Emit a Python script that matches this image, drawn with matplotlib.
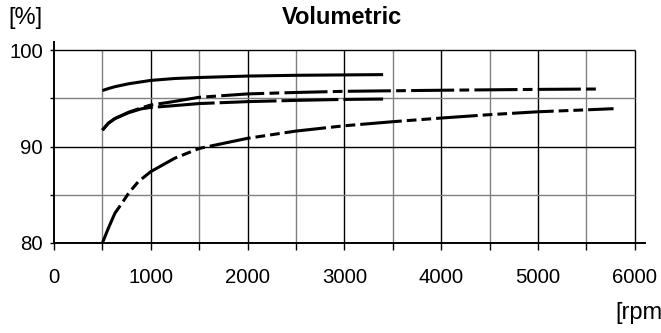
import matplotlib
matplotlib.use("Agg")
import matplotlib.pyplot as plt
import numpy as np

plt.rcParams['font.family'] = ['Liberation Sans', 'DejaVu Sans']
plt.rcParams['lines.scale_dashes'] = False

# --- data -------------------------------------------------------------
rpm1 = [500, 560, 630, 770, 1000, 1250, 1500, 2000, 2500, 3000, 3400]
vol1 = [95.8, 96.0, 96.2, 96.5, 96.85, 97.05, 97.15, 97.3, 97.38, 97.42, 97.45]

rpm2 = [500, 560, 630, 770, 900, 1000, 1200, 1500, 2000, 2500, 3000, 3400]
vol2 = [91.7, 92.4, 92.9, 93.5, 93.9, 94.05, 94.2, 94.45, 94.65, 94.78, 94.88, 94.92]

rpm3 = [500, 560, 630, 770, 900, 1000, 1200, 1500, 2000, 2500, 3000, 4000, 5000, 5650]
vol3 = [91.7, 92.4, 92.9, 93.55, 94.0, 94.3, 94.6, 95.1, 95.45, 95.6, 95.72, 95.83, 95.92, 95.96]

rpm4 = [500, 560, 630, 700, 770, 870, 1000, 1250, 1500, 2000, 2500, 3000, 3500,
        4000, 4500, 5000, 5500, 5780]
vol4 = [80.0, 81.5, 83.1, 84.1, 85.15, 86.35, 87.4, 88.8, 89.8, 90.85, 91.6, 92.15,
        92.57, 92.95, 93.3, 93.6, 93.8, 93.92]

x_major = [0, 1000, 2000, 3000, 4000, 5000, 6000]
x_minor = [500, 1500, 2500, 3500, 4500, 5500]
y_major = [80, 90, 100]
y_minor = [85, 95]

title = "Volumetric"
y_unit = "[%]"
x_unit = "[rpm]"

# --- figure -----------------------------------------------------------
fig = plt.figure(figsize=(6.61, 3.33), dpi=100)
ax = fig.add_axes([54/661, 1-243/333, (644.5-54)/661, (243-42)/333])
ax.set_xlim(0, 6100)
ax.set_ylim(80, 100.83)

# grid box (limited to 0..6000, 80..100)
for xv in x_major[1:]:
    ax.vlines(xv, 80, 100, color='black', lw=1.0, zorder=1)
for xv in x_minor:
    ax.vlines(xv, 80, 100, color='#808080', lw=1.0, zorder=1)
for yv in y_major[1:]:
    ax.hlines(yv, 0, 6000, color='black', lw=1.0, zorder=1)
for yv in y_minor:
    ax.hlines(yv, 0, 6000, color='#808080', lw=1.0, zorder=1)

lw = 2.2
ax.plot(rpm1, vol1, color='black', lw=lw, solid_capstyle='butt', zorder=3)
ax.plot(rpm2, vol2, color='black', lw=lw, dashes=(41, 3.6), dash_capstyle='butt', zorder=3)
ax.plot(rpm3, vol3, color='black', lw=lw, dashes=(31, 3.8, 7, 3.8), dash_capstyle='butt', zorder=3)
ax.plot(rpm4, vol4, color='black', lw=lw, dashes=(30, 3.6, 7, 3.6, 7, 3.6),
        dash_capstyle='butt', zorder=3)

for s in ['top', 'right']:
    ax.spines[s].set_visible(False)
for s in ['left', 'bottom']:
    ax.spines[s].set_color('black')
    ax.spines[s].set_linewidth(1.4)

ax.set_xticks(x_major)
ax.set_xticks(x_minor, minor=True)
ax.set_yticks(y_major)
ax.set_yticks(y_minor, minor=True)
ax.tick_params(axis='x', which='both', direction='out', length=5, width=1.0,
               labelsize=14.7, pad=13, colors='black')
ax.tick_params(axis='y', which='both', direction='out', length=3, width=1.0,
               labelsize=14.7, pad=5, colors='black')

fig.text(342/661, 1-18/333, title, ha='center', va='center', fontsize=17, fontweight='bold')
fig.text(8/661, 1-18/333, y_unit, ha='left', va='center', fontsize=17)
fig.text(615/661, 1-313/333, x_unit, ha='left', va='center', fontsize=17)

fig.savefig("out.png", dpi=100)
